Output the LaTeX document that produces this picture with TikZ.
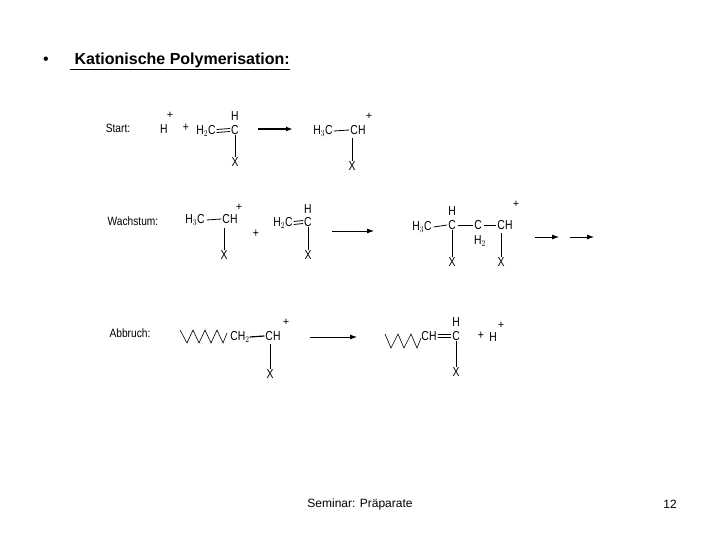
\documentclass[tikz,border=0pt]{standalone}
\usepackage{fontspec}
\setmainfont{Liberation Sans}
\usetikzlibrary{arrows.meta,calc}
\begin{document}
\begin{tikzpicture}[x=1pt,y=-1pt,
 ch/.style={inner sep=0pt,font=\fontsize{13}{14}\selectfont,xscale=0.8},
 sp/.style={inner sep=0pt,font=\fontsize{11}{12}\selectfont},
 lab/.style={inner sep=0pt,font=\fontsize{12}{14}\selectfont,xscale=0.85},
 bd/.style={line width=0.8pt},
 arr/.style={line width=0.8pt,-{Latex[length=7pt,width=5pt]}},
 zz/.style={line width=0.6pt}]
\useasboundingbox (0,0) rectangle (720,540);
\node[inner sep=0pt,font=\fontsize{16}{18}\selectfont] (bul) at (46,61) {•};
\node[inner sep=0pt,anchor=west,font=\bfseries\fontsize{16}{18}\selectfont] (title) at (70,61) {\underline{\ Kationische Polymerisation:}};
% Start
\node[lab] (s) at (118,128) {Start:};
\node[ch] (h1) at (164,129) {H};
\node[sp] (p1) at (170,115) {+};
\node[ch] (p2) at (186,128) {+};
\node[ch] (a1) at (206,131) {H$_2$C};
\node[ch] (a2) at (235,130) {C};
\node[ch] (a3) at (235,116) {H};
\node[ch] (a4) at (235,162) {X};
\draw[bd] ($(a1.east)+(1,-1.5)$) -- ($(a2.west)+(-1,-1.5)$);
\draw[bd] ($(a1.east)+(1,1.5)$) -- ($(a2.west)+(-1,1.5)$);
\draw[bd] (a2.south) -- (a4.north);
\coordinate (r1s) at (258,129); \coordinate (r1e) at (293,129);
\draw[arr,line width=1.4pt] (r1s) -- (r1e);
\node[ch] (b1) at (323,131) {H$_3$C};
\node[ch] (b2) at (358,130) {CH};
\node[sp] (bp) at (369,116) {+};
\node[ch] (b3) at (352,166) {X};
\draw[bd] ($(b1.east)+(1,0)$) -- ($(b2.west)+(-1,0)$);
\draw[bd] (352,138) -- (b3.north);
% Wachstum
\node[lab] (w) at (133,221) {Wachstum:};
\node[ch] (c1) at (195,220) {H$_3$C};
\node[ch] (c2) at (230,219) {CH};
\node[sp] (cp) at (239,207) {+};
\node[ch] (c3) at (224,255) {X};
\draw[bd] ($(c1.east)+(2,0)$) -- ($(c2.west)+(-1,0)$);
\draw[bd] (224,228) -- (c3.north);
\node[ch] (pl) at (256,234) {+};
\node[ch] (d1) at (283,223) {H$_2$C};
\node[ch] (d2) at (308,222) {C};
\node[ch] (d3) at (308,209) {H};
\node[ch] (d4) at (308,255) {X};
\draw[bd] ($(d1.east)+(1,-1.5)$) -- ($(d2.west)+(-1,-1.5)$);
\draw[bd] ($(d1.east)+(1,1.5)$) -- ($(d2.west)+(-1,1.5)$);
\draw[bd] (d2.south) -- (d4.north);
\coordinate (r2s) at (332,231); \coordinate (r2e) at (374,231);
\draw[arr] (r2s) -- (r2e);
\node[ch] (e1) at (422,227) {H$_3$C};
\node[ch] (e2) at (452,225) {C};
\node[ch] (e3) at (452,211) {H};
\node[ch] (e4) at (478,225) {C};
\node[ch] (e5) at (480,241) {H$_2$};
\node[ch] (e6) at (505,225) {CH};
\node[sp] (ep) at (516,204) {+};
\node[ch] (e7) at (452,262) {X};
\node[ch] (e8) at (501,262) {X};
\draw[bd] ($(e1.east)+(2,0)$) -- ($(e2.west)+(-1,0)$);
\draw[bd] ($(e2.east)+(2,0)$) -- ($(e4.west)+(-1,0)$);
\draw[bd] ($(e4.east)+(2,0)$) -- ($(e6.west)+(-1,0)$);
\draw[bd] (e2.south) -- (e7.north);
\draw[bd] (501,233) -- (e8.north);
\coordinate (r3s) at (535,237); \coordinate (r3e) at (559,237);
\coordinate (r4s) at (570,237); \coordinate (r4e) at (594,237);
\draw[arr] (r3s) -- (r3e);
\draw[arr] (r4s) -- (r4e);
% Abbruch
\node[lab] (ab) at (130,333) {Abbruch:};
\draw[zz] (180,330) -- (187,343) -- (193,330) -- (199,343) -- (205,330) -- (211,343) -- (217,330) -- (223,343) -- (227,333);
\node[ch] (f1) at (240,337) {CH$_2$};
\node[ch] (f2) at (273,336) {CH};
\node[sp] (fp) at (286,322) {+};
\node[ch] (f3) at (270,374) {X};
\draw[bd,line width=1.2pt] ($(f1.east)+(0,0)$) -- ($(f2.west)+(-1,0)$);
\draw[bd] (270,344) -- (f3.north);
\coordinate (r5s) at (310,337); \coordinate (r5e) at (357,337);
\draw[arr] (r5s) -- (r5e);
\draw[zz] (385,334) -- (391,348) -- (398,334) -- (404,348) -- (411,334) -- (417,348) -- (421,338);
\node[ch] (g1) at (429,336) {CH};
\node[ch] (g2) at (456,336) {C};
\node[ch] (g3) at (456,322) {H};
\node[ch] (g4) at (456,372) {X};
\draw[bd] ($(g1.east)+(1,-1.5)$) -- ($(g2.west)+(-1,-1.5)$);
\draw[bd] ($(g1.east)+(1,1.5)$) -- ($(g2.west)+(-1,1.5)$);
\draw[bd] (g2.south) -- (g4.north);
\node[ch] (g5) at (481,336) {+};
\node[ch] (g6) at (493,337) {H};
\node[sp] (g7) at (501,325) {+};
% footer
\node[inner sep=0pt,font=\fontsize{12}{14}\selectfont] (foot) at (360,504) {Seminar: Präparate};
\node[inner sep=0pt,font=\fontsize{12}{14}\selectfont] (num) at (670,504) {12};
\end{tikzpicture}
\end{document}
